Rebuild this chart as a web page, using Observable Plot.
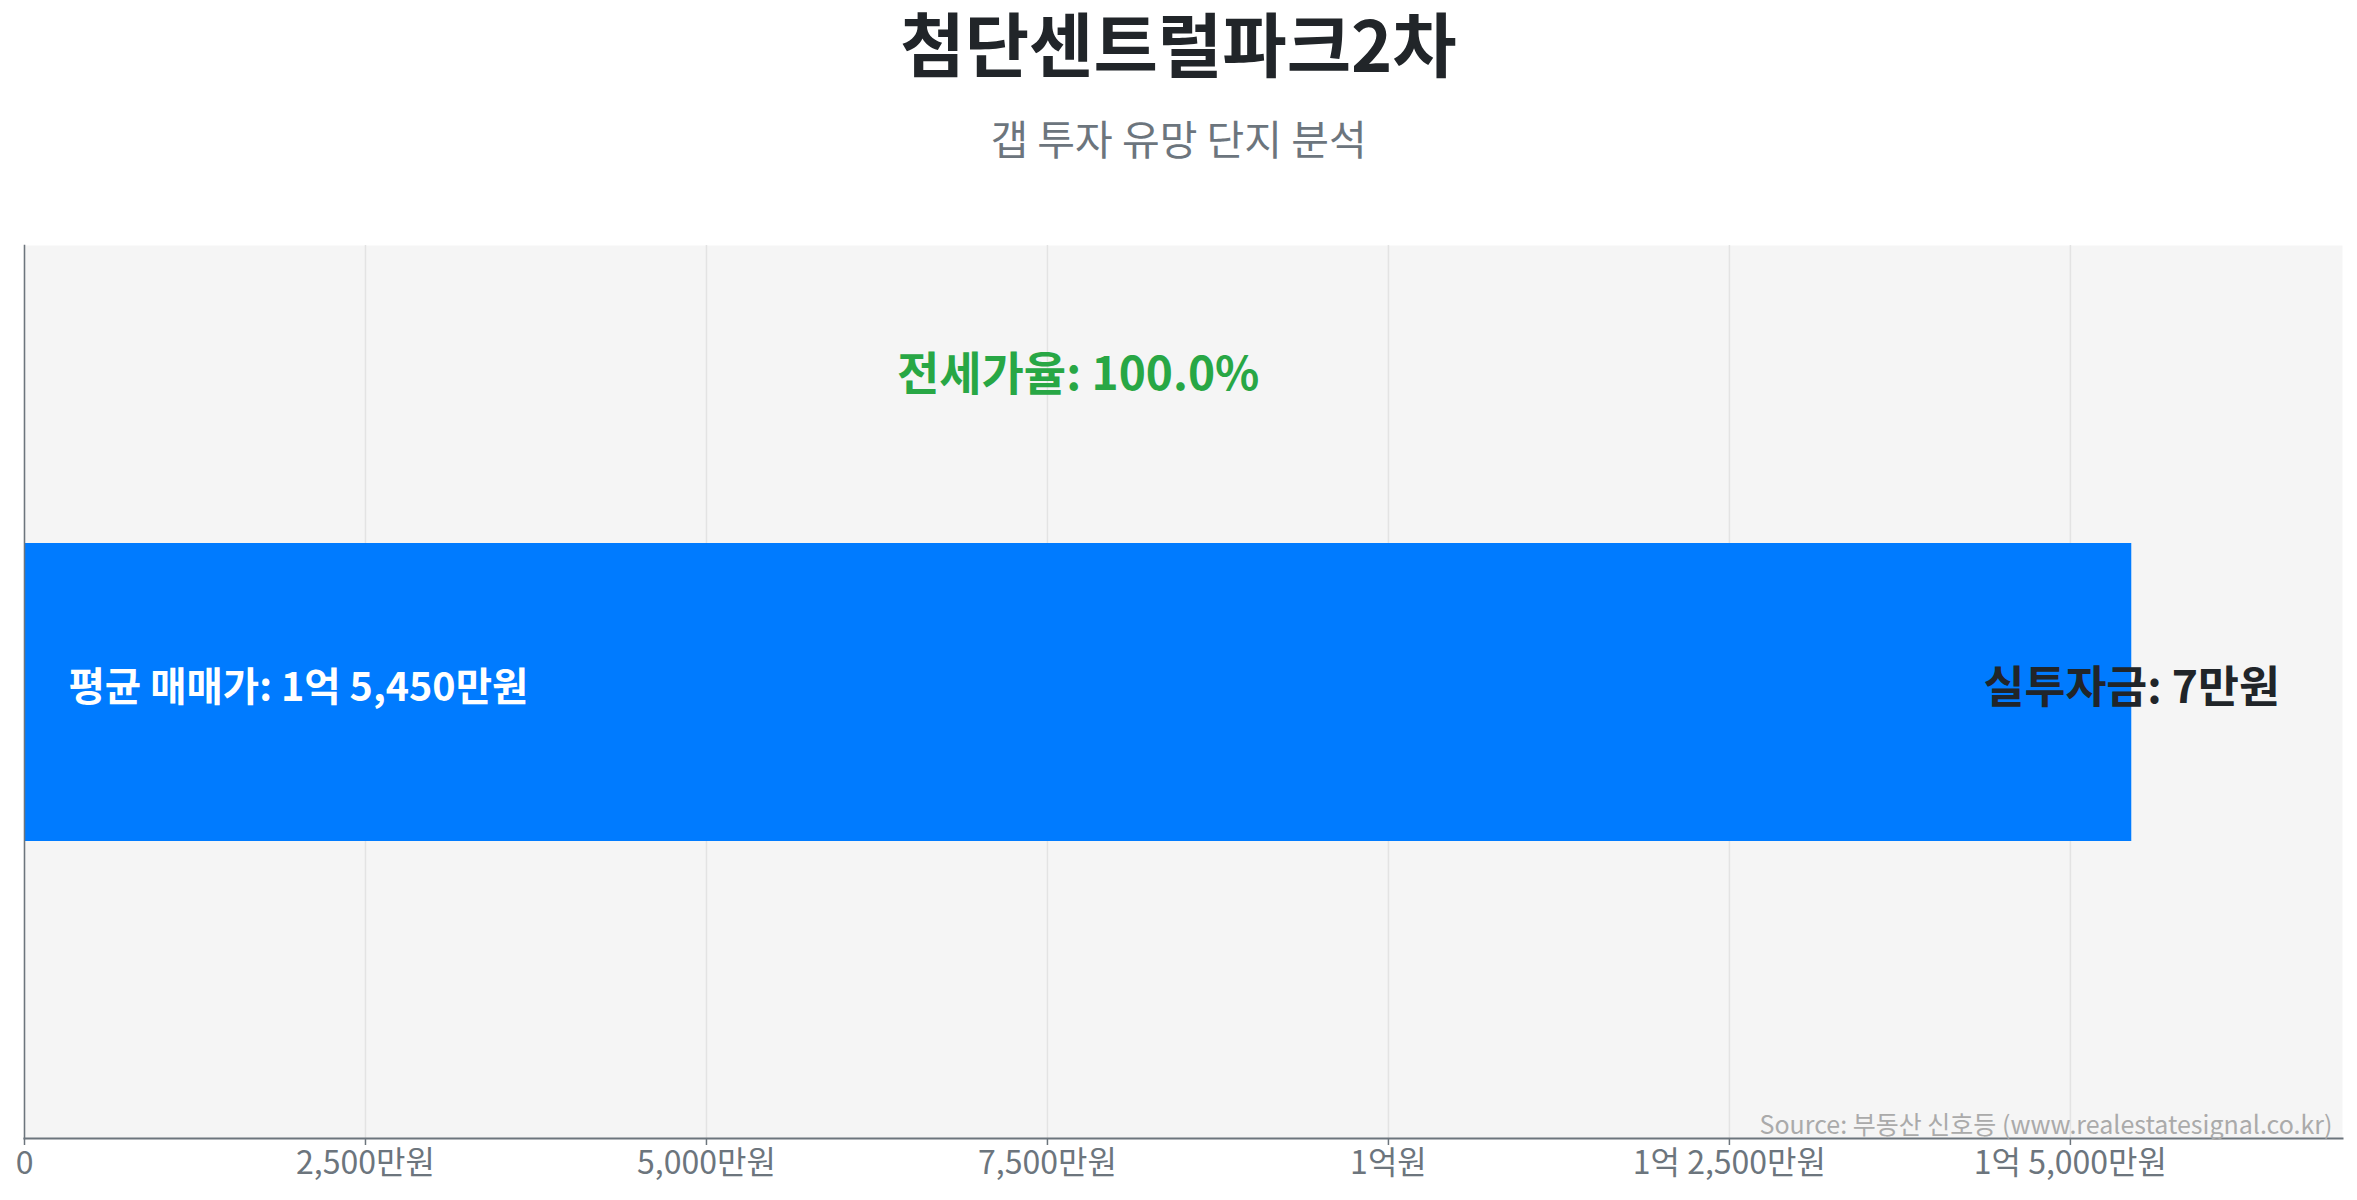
<!DOCTYPE html>
<html>
<head>
<meta charset="utf-8">
<script src="https://cdn.jsdelivr.net/npm/d3@7"></script>
<script src="https://cdn.jsdelivr.net/npm/@observablehq/plot@0.6"></script>
<style>
  html, body { margin: 0; padding: 0; background: #ffffff; }
  body { width: 2357px; height: 1200px; overflow: hidden; font-family: "Noto Sans CJK KR", "Noto Sans", sans-serif; }
  #header { height: 200px; position: relative; }
  #title { position: absolute; left: 0; right: 0; top: 0; height: 84px; line-height: 84px; text-align: center; font-size: 70px; font-weight: bold; color: #212529; }
  #subtitle { position: absolute; left: 0; right: 0; top: 112px; height: 50px; line-height: 50px; text-align: center; font-size: 41px; color: #6c757d; }
</style>
</head>
<body>
<div id="header">
  <div id="title"></div>
  <div id="subtitle"></div>
</div>
<div id="chart"></div>
<script>
// ---- data ----
const complexNames = ["첨단센트럴파크2차"];
const avgPrices = [15450];        // 만원
const investments = [7];          // 만원
const jeonseRatios = [100.0];     // %
const xTicks = [0, 2500, 5000, 7500, 10000, 12500, 15000];
const titleText = "첨단센트럴파크2차";
const subtitleText = "갭 투자 유망 단지 분석";
const sourceText = "Source: 부동산 신호등 (www.realestatesignal.co.kr)";

document.getElementById("title").textContent = titleText;
document.getElementById("subtitle").textContent = subtitleText;

function fmtWon(v) {
  if (v === 0) return "0";
  const eok = Math.floor(v / 10000);
  const man = v % 10000;
  if (eok > 0 && man > 0) return `${eok}억 ${man.toLocaleString("en-US")}만원`;
  if (eok > 0) return `${eok}억원`;
  return `${man.toLocaleString("en-US")}만원`;
}

const data = complexNames.map((name, i) => ({
  name,
  price: avgPrices[i],
  invest: investments[i],
  ratio: jeonseRatios[i]
}));

const xMax = d3.max(avgPrices) * 1.1;
const font = "'Noto Sans CJK KR', 'Noto Sans', sans-serif";

const chart = Plot.plot({
  width: 2357,
  height: 1000,
  marginTop: 45,
  marginBottom: 62,
  marginLeft: 24,
  marginRight: 15,
  style: { fontFamily: font, background: "#ffffff" },
  x: { domain: [0, xMax], ticks: xTicks, tickFormat: fmtWon, label: null },
  y: { domain: complexNames, padding: 0.5, axis: null },
  marks: [
    Plot.frame({ fill: "#f5f5f5", stroke: null }),
    Plot.gridX(xTicks, { stroke: "#e3e3e3", strokeOpacity: 1, strokeWidth: 1.5 }),
    Plot.barX(data, { x: "price", y: "name", fill: "#007bff" }),
    Plot.frame({ anchor: "left", stroke: "#6c757d", strokeWidth: 1.5 }),
    Plot.frame({ anchor: "bottom", stroke: "#6c757d", strokeWidth: 2 }),
    Plot.axisX({
      ticks: xTicks,
      tickFormat: fmtWon,
      label: null,
      tickSize: 7,
      tickPadding: 6,
      fontSize: 32,
      color: "#6c757d",
      stroke: "#6c757d",
      strokeWidth: 1.5
    }),
    Plot.text(data, {
      x: 0, y: "name",
      text: d => `평균 매매가: ${fmtWon(d.price)}`,
      textAnchor: "start", dx: 44, dy: -4,
      fill: "#ffffff", fontWeight: "bold", fontSize: 39.5
    }),
    Plot.text(data, {
      x: "price", y: "name",
      text: d => `실투자금: ${fmtWon(d.invest)}`,
      textAnchor: "middle", dy: -4,
      fill: "#212529", fontWeight: "bold", fontSize: 44.5
    }),
    Plot.text(data, {
      x: d => d.price / 2, y: "name",
      text: d => `전세가율: ${d.ratio.toFixed(1)}%`,
      textAnchor: "middle", dy: -317,
      fill: "#28a745", fontWeight: "bold", fontSize: 46
    }),
    Plot.text([sourceText], {
      frameAnchor: "bottom-right", text: d => d,
      dx: -10, dy: -5,
      fill: "#aaaaaa", fontSize: 25
    })
  ]
});
document.getElementById("chart").appendChild(chart);
</script>
</body>
</html>
